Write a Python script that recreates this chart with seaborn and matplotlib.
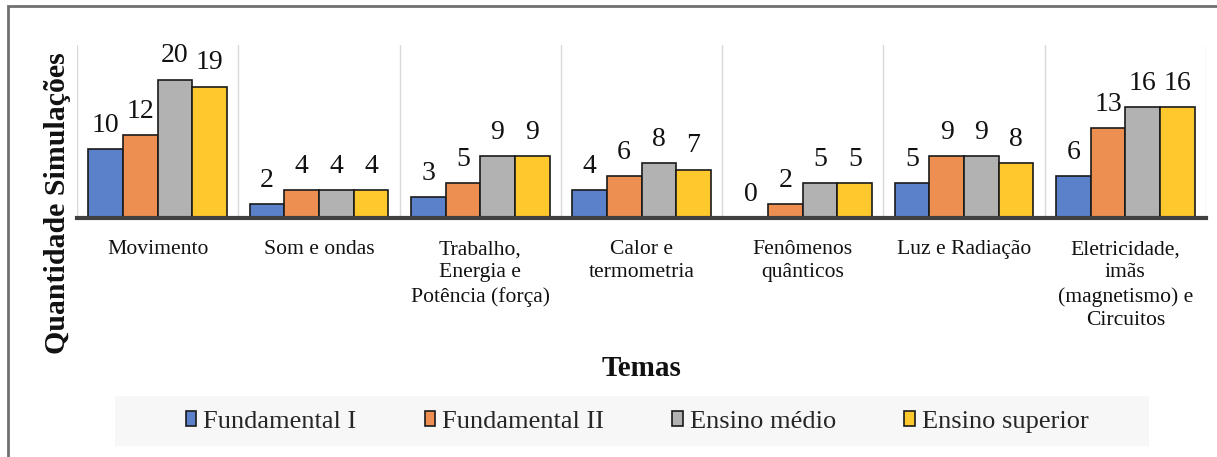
import pandas as pd
import matplotlib
matplotlib.use("Agg")
import matplotlib.pyplot as plt
from matplotlib.patches import Rectangle
import seaborn as sns

# --- data ---
temas = [
    "Movimento",
    "Som e ondas",
    "Trabalho,\nEnergia e\nPotência (força)",
    "Calor e\ntermometria",
    "Fenômenos\nquânticos",
    "Luz e Radiação",
    "Eletricidade,\nimãs\n(magnetismo) e\nCircuitos",
]
niveis = ["Fundamental I", "Fundamental II", "Ensino médio", "Ensino superior"]
fundamental_1 = [10, 2, 3, 4, 0, 5, 6]
fundamental_2 = [12, 4, 5, 6, 2, 9, 13]
ensino_medio = [20, 4, 9, 8, 5, 9, 16]
ensino_superior = [19, 4, 9, 7, 5, 8, 16]
cores = ["#5B81CB", "#EE8F52", "#B2B2B2", "#FFC82C"]

df = pd.DataFrame({
    "Tema": temas * 4,
    "Nivel": [n for n in niveis for _ in temas],
    "Quantidade": fundamental_1 + fundamental_2 + ensino_medio + ensino_superior,
})

sns.set_theme(style="white")
plt.rcParams["font.family"] = ["Liberation Serif", "DejaVu Serif"]

fig = plt.figure(figsize=(12.17, 4.57), dpi=100)
ax = fig.add_axes([77 / 1217, 1 - 218 / 457, (1206 - 77) / 1217, (218 - 45) / 457])

sns.barplot(data=df, x="Tema", y="Quantidade", hue="Nivel", order=temas,
            hue_order=niveis, palette=cores, width=0.86, gap=0,
            edgecolor="#1a1a1a", linewidth=1.2, saturation=1, ax=ax)

for cont in ax.containers:
    ax.bar_label(cont, padding=8, fontsize=20, color="#111111")

ax.set_ylim(0, 25)
ax.set_xlim(-0.5, len(temas) - 0.5)
ax.set_yticks([])
ax.set_xlabel("")
ax.set_ylabel("")
ax.tick_params(axis="x", length=0, pad=16, labelsize=15.6, colors="#111111")
for lbl in ax.get_xticklabels():
    lbl.set_linespacing(1.3)

# category separators
ax.set_xticks([i - 0.5 for i in range(len(temas) + 1)], minor=True)
ax.grid(axis="x", which="minor", color="#D9D9D9", linewidth=1)
ax.grid(axis="x", which="major", visible=False)

for s in ["top", "right", "left"]:
    ax.spines[s].set_visible(False)
ax.spines["bottom"].set_color("#404040")
ax.spines["bottom"].set_linewidth(3)

ax.get_legend().remove()

# axis titles
fig.text(58 / 1217, 1 - 203 / 457, "Quantidade Simulações", rotation=90,
         ha="center", va="center", fontsize=21.5, fontweight="bold", color="#111111")
fig.text(642 / 1217, 1 - 368 / 457, "Temas", ha="center", va="center",
         fontsize=21, fontweight="bold", color="#111111")

# legend with light background band
fig.patches.append(Rectangle((115 / 1217, 1 - 446 / 457), (1149 - 115) / 1217, 50 / 457,
                             transform=fig.transFigure, facecolor="#F7F7F7",
                             edgecolor="none", zorder=0))
handles = [Rectangle((0, 0), 1, 1, facecolor=c, edgecolor="#1a1a1a", linewidth=1.2)
           for c in cores]
fig.legend(handles, niveis, loc="center", bbox_to_anchor=(637 / 1217, 1 - 422 / 457),
           ncol=4, frameon=False, fontsize=19, handlelength=0.4, handleheight=0.5,
           handletextpad=0.25, columnspacing=2.6)

# outer frame
fig.patches.append(Rectangle((8 / 1217, -0.1), 1.2, (457 - 6) / 457 + 0.1,
                             transform=fig.transFigure, fill=False,
                             edgecolor="#707070", linewidth=2))

fig.savefig("out.png", dpi=100)
